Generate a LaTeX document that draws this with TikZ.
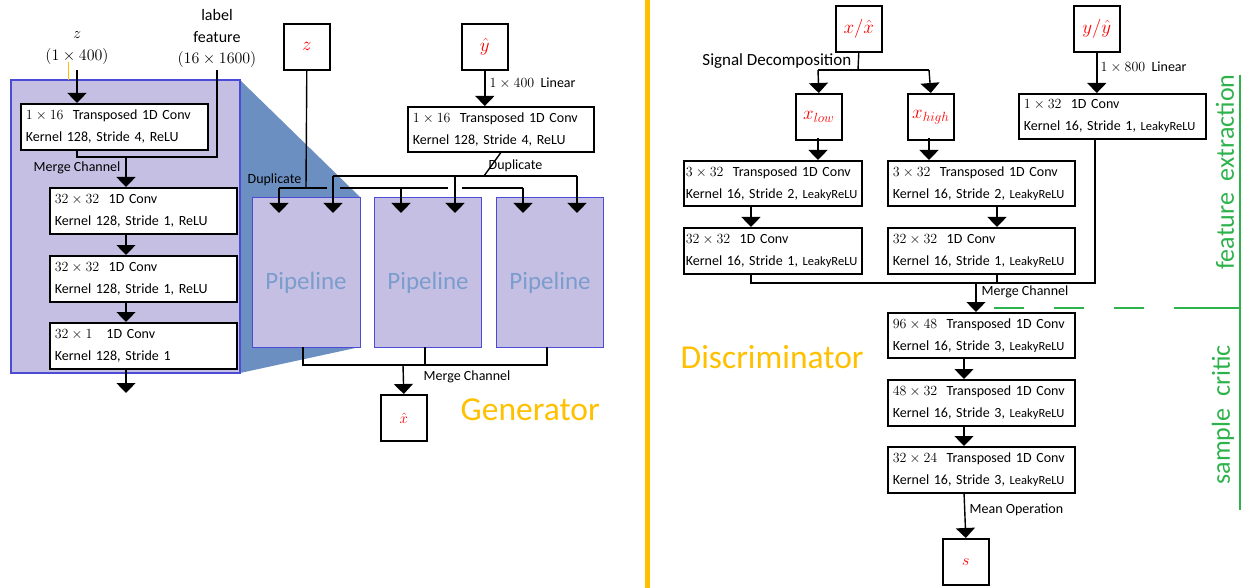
\RequirePackage{fix-cm}
\documentclass[tikz,border=0pt]{standalone}
\usepackage[no-math]{fontspec}
\setmainfont{Carlito}
\usetikzlibrary{arrows.meta,calc}
\definecolor{pur}{HTML}{C6BFE4}
\definecolor{pbord}{HTML}{4B4BD6}
\definecolor{steel}{HTML}{6B8FC0}
\definecolor{pipetxt}{HTML}{7B9DCC}
\definecolor{gold}{HTML}{FFC000}
\definecolor{grn}{HTML}{2EB24B}
\newcommand{\lk}{{\fontsize{12.5}{14}\selectfont LeakyReLU}}
\begin{document}
\begin{tikzpicture}[x=1pt,y=-1pt,line width=1.4pt,
  arr/.style={-{Triangle[width=19pt,length=10pt]}},
  blk/.style={draw,line width=1.6pt,fill=white,anchor=north west,align=left,
    inner xsep=5pt,inner ysep=0pt,font=\fontsize{14}{22}\selectfont},
  sq/.style={draw,line width=1.6pt,fill=white,anchor=north west,minimum width=46pt,
    minimum height=46pt,inner sep=0pt,text=red,font=\fontsize{19}{22}\selectfont},
  lbl/.style={font=\fontsize{14}{16}\selectfont,inner sep=0pt},
  pipe/.style={draw=pbord,fill=pur,line width=1.2pt,anchor=north west},
  pipet/.style={text=pipetxt,font=\fontsize{25}{28}\selectfont,inner sep=0pt},
  big/.style={text=gold,font=\fontsize{33.5}{36}\selectfont,inner sep=0pt},
  grtxt/.style={text=grn,rotate=90,font=\fontsize{26}{28}\selectfont,inner sep=0pt},
  top/.style={inner sep=0pt,font=\fontsize{16}{18}\selectfont}]
\useasboundingbox (0,0) rectangle (1250,588);

% ---------------- Generator ----------------
\fill[steel] (240,80) -- (360,197) -- (360,347) -- (240,373) -- cycle;
\draw[draw=pbord,fill=pur,line width=1.4pt] (11,80) rectangle (240,373);
\draw[gold,line width=0.8pt] (68,62) -- (68,80);

\node[top] (zt) at (77,35) {$z$};
\node[top] (zdim) at (77,57) {$(1\times 400)$};
\node[top] (lab1) at (217,15) {label};
\node[top] (lab2) at (217,37) {feature};
\node[top] (lab3) at (217,60) {$(16\times 1600)$};

\node[blk,text width=177pt,minimum height=46pt] (L1) at (20,103)
  {$1\times 16$\ \ Transposed 1D Conv\\Kernel 128, Stride 4, ReLU};
\node[blk,text width=177pt,minimum height=46pt] (L2) at (49,187)
  {$32\times 32$\ \ 1D Conv\\Kernel 128, Stride 1, ReLU};
\node[blk,text width=177pt,minimum height=46pt] (L3) at (49,255)
  {$32\times 32$\ \ 1D Conv\\Kernel 128, Stride 1, ReLU};
\node[blk,text width=177pt,minimum height=46pt] (L4) at (49,322)
  {$32\times 1$\hspace{14pt}1D Conv\\Kernel 128, Stride 1};

\coordinate (m1) at (77,157);
\coordinate (m2) at (217,157);
\draw[arr] (77,70) -- (77,103);
\draw (77,149) -- (m1) -- (m2) -- (217,70);
\draw[arr] (126,157) -- (126,187);
\node[lbl,anchor=west] (mc1) at (33,168) {Merge Channel};
\draw[arr] (126,233) -- (126,255);
\draw[arr] (126,301) -- (126,322);
\draw[arr] (126,368) -- (126,393);

\node[pipe,minimum width=108pt,minimum height=150pt] (P1) at (252,197) {};
\node[pipe,minimum width=107pt,minimum height=150pt] (P2) at (374,197) {};
\node[pipe,minimum width=107pt,minimum height=150pt] (P3) at (496,197) {};
\node[pipet] (P1t) at (306,283) {Pipeline};
\node[pipet] (P2t) at (428,283) {Pipeline};
\node[pipet] (P3t) at (550,283) {Pipeline};

\node[sq] (zb) at (283,23) {$z$};
\node[sq] (yb) at (461,23) {$\hat{y}$};
\node[blk,text width=176pt,minimum height=45pt] (G1) at (407,106)
  {$1\times 16$\ \ Transposed 1D Conv\\Kernel 128, Stride 4, ReLU};
\draw[arr] (yb.south) -- (G1.north -| yb.south);
\node[lbl,anchor=west] (lin1) at (489,83) {$1\times 400$\ \ Linear};

% z duplicate
\draw (zb.south) -- (306,188);
\draw (279,188) -- (327,188);
\draw (340,188) -- (448,188);
\draw (462,188) -- (523,188);
\draw[arr] (279,188) -- (279,213);
\draw[arr] (401,188) -- (401,213);
\draw[arr] (523,188) -- (523,213);
\node[lbl,anchor=east] (dup1) at (302,180) {Duplicate};
% y duplicate
\draw (G1.south) -- (484,176);
\draw (333,176) -- (577,176);
\draw[arr] (333,176) -- (333,213);
\draw[arr] (455,176) -- (455,213);
\draw[arr] (577,176) -- (577,213);
\node[lbl,anchor=west] (dup2) at (488,166) {Duplicate};

% merge
\draw (303,347) -- (303,365) -- (547,365) -- (547,347);
\draw (425,347) -- (425,365);
\node[sq] (xh) at (380,394) {\fontsize{15}{16}\selectfont$\hat{x}$};
\draw[arr] (403,365) -- (xh.north);
\node[lbl,anchor=west] (mc2) at (423,377) {Merge Channel};
\node[big,anchor=west] (gen) at (460,410) {Generator};

% separator
\draw[gold,line width=5pt] (647,0) -- (647,588);

% ---------------- Discriminator ----------------
\node[sq] (xx) at (835,5) {$x/\hat{x}$};
\node[sq] (xl) at (795,93) {$x_{low}$};
\node[sq] (xhg) at (907,93) {$x_{high}$};
\node[sq] (yy) at (1073,5) {$y/\hat{y}$};
\node[inner sep=0pt,anchor=east,font=\fontsize{17}{19}\selectfont] (sd) at (852,61) {Signal Decomposition};
\draw (xx.south) -- (858,70);
\draw (818,70) -- (929,70);
\draw[arr] (818,70) -- (xl.north);
\draw[arr] (929,70) -- (xhg.north);

\node[blk,text width=174pt,inner xsep=2pt,minimum height=45pt] (DL1) at (683,160)
  {$3\times 32$\ \ Transposed 1D Conv\\Kernel 16, Stride 2, \lk};
\node[blk,text width=177pt,minimum height=45pt] (DR1) at (887,160)
  {$3\times 32$\ \ Transposed 1D Conv\\Kernel 16, Stride 2, \lk};
\node[blk,text width=174pt,inner xsep=2pt,minimum height=46pt] (DL2) at (683,227)
  {$32\times 32$\ \ 1D Conv\\Kernel 16, Stride 1, \lk};
\node[blk,text width=177pt,minimum height=46pt] (DR2) at (887,227)
  {$32\times 32$\ \ 1D Conv\\Kernel 16, Stride 1, \lk};
\node[blk,text width=177pt,minimum height=45pt] (DY) at (1018,93)
  {$1\times 32$\ \ 1D Conv\\Kernel 16, Stride 1, \lk};

\draw[arr] (818,138) -- (818,160);
\draw[arr] (929,138) -- (929,160);
\draw[arr] (751,205) -- (751,227);
\draw[arr] (997,205) -- (997,227);
\draw[arr] (yy.south) -- (DY.north -| yy.south);
\node[lbl,anchor=west] (lin2) at (1100,67) {$1\times 800$\ \ Linear};

\draw (751,273) -- (751,283) -- (1095,283) -- (1095,138);
\draw (997,273) -- (997,283);

\node[blk,text width=177pt,minimum height=45pt] (D3) at (887,312)
  {$96\times 48$\ \ Transposed 1D Conv\\Kernel 16, Stride 3, \lk};
\node[blk,text width=177pt,minimum height=46pt] (D4) at (887,379)
  {$48\times 32$\ \ Transposed 1D Conv\\Kernel 16, Stride 3, \lk};
\node[blk,text width=177pt,minimum height=46pt] (D5) at (887,446)
  {$32\times 24$\ \ Transposed 1D Conv\\Kernel 16, Stride 3, \lk};
\node[sq] (sb) at (942,538) {\fontsize{16}{16}\selectfont$s$};

\draw[arr] (976,283) -- (976,312);
\node[lbl,anchor=west] (mc3) at (981,292) {Merge Channel};
\draw[arr] (964,357) -- (964,379);
\draw[arr] (964,425) -- (964,446);
\draw[arr] (964,492) -- (sb.north);
\node[lbl,anchor=west] (mo) at (969,510) {Mean Operation};

\node[big,anchor=west] (dis) at (680,357) {Discriminator};

% green
\draw[grn,line width=2pt] (1240,75) -- (1240,510);
\draw[grn,line width=2pt,dash pattern=on 30pt off 30pt] (994,308) -- (1175,308);
\draw[grn,line width=2pt] (1175,308) -- (1240,308);
\node[grtxt] (fe) at (1225,172) {feature\ \ extraction};
\node[grtxt] (sc) at (1223,415) {sample\ \ critic};
\end{tikzpicture}
\end{document}
